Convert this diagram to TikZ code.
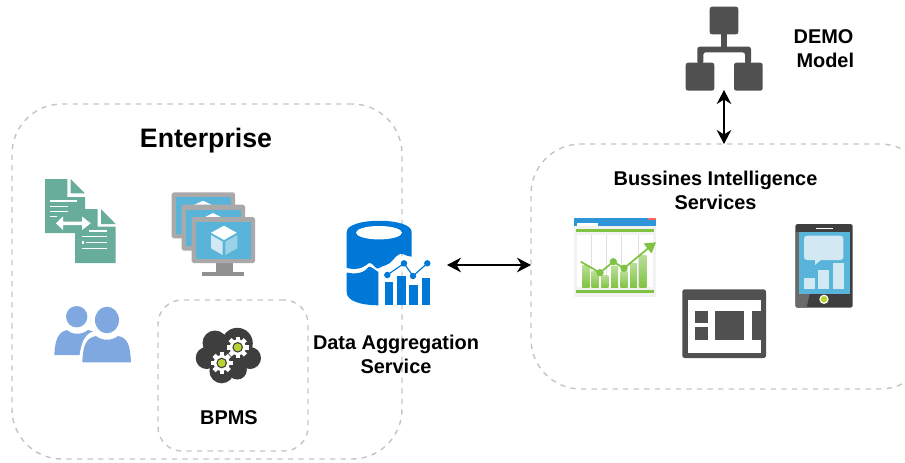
\documentclass[tikz,border=0pt]{standalone}
\usepackage{fontspec}
\setmainfont{Liberation Sans}
\usepackage{xcolor}
\usetikzlibrary{arrows.meta,calc}

\definecolor{dashgray}{HTML}{C4C4C4}
\definecolor{docgreen}{HTML}{68AD9B}
\definecolor{framegray}{HTML}{A9A9A9}
\definecolor{screenblue}{HTML}{59B4D9}
\definecolor{peopleblue}{HTML}{7FA8E0}
\definecolor{darkicon}{HTML}{3E3E3E}
\definecolor{midicon}{HTML}{505050}
\definecolor{limegreen}{HTML}{B8D432}
\definecolor{datablue}{HTML}{0078D7}
\definecolor{chartgreen}{HTML}{80C342}
\definecolor{palebubble}{HTML}{D2E9F4}

\tikzset{
  monitorpic/.pic={
    \fill[framegray, rounded corners=1.5pt] (0,0) rectangle (63.3,46);
    \fill[screenblue] (4.3,5) rectangle (59.3,41.7);
    \fill[limegreen] (31.5,2.5) circle (0.7);
  },
  gearpic/.pic={
    \foreach \a in {0,45,...,315}
      \fill[white, rotate=\a] (-2.2,6) rectangle (2.2,10.8);
    \fill[white] (0,0) circle (8);
    \fill[darkicon] (0,0) circle (5.3);
    \fill[limegreen] (0,0) circle (4);
  }
}

\begin{document}
\begin{tikzpicture}[
    x=0.03cm, y=-0.03cm,
    groupbox/.style={rectangle, draw=dashgray, line width=1.2pt, dash pattern=on 4.5pt off 4.5pt, inner sep=0pt, outer sep=0pt},
    caption/.style={font=\fontsize{17}{20.5}\selectfont\bfseries, align=center, inner sep=0pt},
    iconanchor/.style={rectangle, inner sep=0pt, outer sep=0pt},
    biarrow/.style={{Stealth[length=12pt,width=12.5pt]}-{Stealth[length=12pt,width=12.5pt]}, line width=1pt}
  ]
  \useasboundingbox (0,0) rectangle (905,462);

  % Dashed groups
  \node[groupbox, rounded corners=1.5cm, minimum width=11.7cm, minimum height=10.65cm] (enterprise) at (207,281.5) {};
  \node[groupbox, rounded corners=0.72cm, minimum width=4.5cm, minimum height=4.53cm] (bpms) at (233,375.5) {};
  \node[groupbox, rounded corners=1.5cm, minimum width=11.97cm, minimum height=7.35cm] (bibox) at (730.5,266.5) {};

  % Labels
  \node[caption, font=\fontsize{22.8}{26}\selectfont\bfseries] (enterprisetext) at (206,140.5) {Enterprise};
  \node[caption] (bpmstext) at (229,418) {BPMS};
  \node[caption] (datatext) at (396,354.5) {Data Aggregation\\Service};
  \node[caption] (bitext) at (715.5,190) {Bussines Intelligence\\Services};
  \node[caption] (demotext) at (823.5,49) {DEMO\\\hspace*{3pt}Model};

  % Documents
  \fill[docgreen] (45,179) -- (67.3,179) -- (67.3,197) -- (85,197) -- (85,209) -- (97.7,209) -- (97.7,226.7) -- (115.7,226.7) -- (115.7,263) -- (75,263) -- (75,233) -- (45,233) -- cycle;
  \fill[docgreen] (70.7,179) -- (85,193.3) -- (70.7,193.3) -- cycle;
  \fill[docgreen] (101,209) -- (115.7,224) -- (101,224) -- cycle;
  \foreach \y/\xa/\xb in {201/50/76.7, 206.7/50/68.3, 211.7/50/68.3, 216.7/50/56.7}
    \draw[white, line width=1.2pt] (\xa,\y) -- (\xb,\y);
  \foreach \y/\xa/\xb in {231/89.3/106.7, 236.7/81.7/106.7, 242.3/85.7/106.7, 248.3/81.7/106.7}
    \draw[white, line width=1.2pt] (\xa,\y) -- (\xb,\y);
  \fill[white] (81.7,240.8) rectangle (83.7,243.8);
  \fill[white] (56,223.3) -- (63,216.5) -- (63,221.5) -- (82,221.5) -- (82,216.5) -- (90.7,223.3) -- (82,230) -- (82,225.2) -- (63,225.2) -- (63,230) -- cycle;

  % Monitors
  \pic at (171.7,192.3) {monitorpic};
  \fill[white] (203,200.7) -- (212,205) -- (194,205) -- cycle;
  \pic at (181.7,204.7) {monitorpic};
  \fill[white] (213,213) -- (222,217.5) -- (204,217.5) -- cycle;
  \fill[framegray!85!black] (215.7,263.3) rectangle (233.3,271.7);
  \fill[framegray!85!black] (202.3,272) rectangle (244.3,276);
  \pic at (191.7,217) {monitorpic};
  \fill[white] (224,225.7) -- (236.7,232.7) -- (224,240) -- (211,232.7) -- cycle;
  \fill[palebubble] (211,235) -- (222.7,241.7) -- (222.7,255) -- (211,248.3) -- cycle;
  \fill[screenblue!60!white] (225.3,241.7) -- (237.3,235) -- (237.3,248.3) -- (225.3,255) -- cycle;

  % People
  \fill[peopleblue] (76.7,316.7) circle (10.7);
  \fill[peopleblue] (54.3,355) .. controls (55,340) and (58,332) .. (67,330) .. controls (72,335) and (82,335) .. (88,330) .. controls (100,332) and (100,340) .. (100,355) -- cycle;
  \fill[white] (79,362.3) .. controls (80,345) and (84,333) .. (95,331) -- (119,331) .. controls (131,334) and (133,345) .. (134,362.3) -- cycle;
  \fill[peopleblue] (107,320) ellipse (12 and 13.3);
  \fill[peopleblue] (82.3,362.3) .. controls (83,345) and (86,338) .. (96,336) .. controls (102,341) and (112,341) .. (118,336) .. controls (128,338) and (130,345) .. (131,362.3) -- cycle;

  % BPMS cloud
  \fill[darkicon] (237.3,343.3) circle (15.5) (215,343) circle (12.5) (206.7,358) circle (11) (250,358) circle (11) (221.7,371) circle (12.3) (237.3,370) circle (9.5) (228,358) circle (18);
  \pic at (237.7,347.3) {gearpic};
  \pic at (221.7,363) {gearpic};

  % Data icon
  \fill[datablue] (346.7,232) .. controls (346.7,217) and (411.7,217) .. (411.7,232) -- (411.7,256.7) .. controls (405,256) and (403,253) .. (400,254) .. controls (395,255) and (392,264) .. (385,265.5) .. controls (381,266) and (378,270) .. (376,268) .. controls (372,264) and (371,262) .. (369,263) .. controls (365,266) and (360,271) .. (346.7,268) -- cycle;
  \fill[white] (379,232.7) ellipse (23 and 6.7);
  \fill[datablue] (346.7,272.5) .. controls (358,275) and (365,272) .. (369,266.5) .. controls (372,267) and (375,270) .. (378.3,272) -- (378.3,305.3) .. controls (360,305) and (346.7,301) .. (346.7,292) -- cycle;
  \foreach \xa/\ya in {385/281.7, 397.3/276, 409.3/285.3, 421.7/278.3}
    \fill[datablue] (\xa,\ya) rectangle (\xa+8.3,305.3);
  \draw[datablue, line width=1pt] (387.3,275) -- (404,263.3) -- (413,276) -- (427.3,263.3);
  \foreach \xa/\ya in {387.3/275, 404/263.3, 413/276, 427.3/263.3}
    \fill[datablue] (\xa,\ya) circle (3.2);
  \node[iconanchor, minimum width=3cm, minimum height=2.58cm] (dataicon) at (397,265) {};

  % DEMO model icon
  \fill[midicon, rounded corners=2pt] (709.7,6.7) rectangle (738.3,34.3);
  \fill[midicon, rounded corners=2pt] (685.7,62.7) rectangle (714.3,90.7);
  \fill[midicon, rounded corners=2pt] (734,62.7) rectangle (762.7,90.7);
  \fill[midicon] (721,34) rectangle (727,47);
  \fill[midicon, rounded corners=2pt] (697.3,64) -- (697.3,46.7) -- (751,46.7) -- (751,64) -- (745,64) -- (745,52.3) -- (703.3,52.3) -- (703.3,64) -- cycle;
  \node[iconanchor, minimum width=2.31cm, minimum height=2.52cm] (orgicon) at (724,48) {};

  % Chart window
  \fill[black!5] (574,218.3) rectangle (656.3,297.3);
  \fill[cyan!70!blue!85!white] (573.7,218.3) rectangle (656.3,225.7);
  \fill[white] (576.7,223.3) rectangle (598.3,225.7);
  \fill[red!60] (648.3,218.3) rectangle (655.7,220);
  \fill[chartgreen] (576,229) rectangle (654,231.7);
  \fill[white] (576.7,235) rectangle (653.3,287.3);
  \foreach \xa in {591.7,606.7,621.7,638.3}
    \draw[black!12, line width=0.6pt] (\xa,235) -- (\xa,287.3);
  \fill[chartgreen] (576,290.3) rectangle (654,293.3);
  \foreach \xa/\ya in {582.3/265, 591.7/271.7, 601.3/275, 611/266.7, 620.7/271.7, 630/263.3, 639.3/255}
    \shade[top color=chartgreen!55!white, bottom color=chartgreen] (\xa,\ya) rectangle (\xa+7,287.3);
  \draw[chartgreen, line width=1.5pt] (580.7,261.7) -- (600,272.7) -- (613.3,261.7) -- (624,268.3) -- (650,246.7);
  \foreach \xa/\ya in {600/272.7, 613.3/261.7, 624/268.3}
    \fill[chartgreen] (\xa,\ya) circle (3.7);
  \fill[chartgreen] (656,242.3) -- (651.5,253.5) -- (643.5,243.5) -- cycle;

  % Dashboard icon
  \fill[midicon, rounded corners=2pt] (682.3,289.3) rectangle (766,358);
  \fill[white] (687.7,300) rectangle (761,352.7);
  \fill[midicon] (695,311) rectangle (707.7,323.3);
  \fill[midicon] (695,327.3) rectangle (707.7,340);
  \fill[midicon] (715,311) rectangle (744.3,340);
  \fill[midicon] (751.7,310.7) rectangle (761,340);

  % Tablet icon
  \fill[darkicon, rounded corners=2pt] (795.3,224) rectangle (852.7,307.7);
  \fill[midicon!85!white] (796,232) -- (823,232) -- (806.7,307.3) -- (796,307.3) -- cycle;
  \fill[screenblue] (799,232) rectangle (850,294);
  \fill[white] (816,227.7) rectangle (832.7,229.3);
  \fill[white] (824,299.3) circle (4.7);
  \fill[limegreen] (824,299.3) circle (3.3);
  \fill[palebubble, rounded corners=2.5pt] (804,235.7) rectangle (843.3,260);
  \fill[palebubble] (815,259) -- (815,265) -- (822,259) -- cycle;
  \foreach \xa/\xb/\ya in {804/815/278.3, 818.3/829/270, 833/844/263.3}
    \fill[palebubble] (\xa,\ya) rectangle (\xb,289);

  % Arrows
  \draw[biarrow] (dataicon.east) -- (dataicon.east -| bibox.west);
  \draw[biarrow] (orgicon.south) -- (orgicon.south |- bibox.north);
\end{tikzpicture}
\end{document}
